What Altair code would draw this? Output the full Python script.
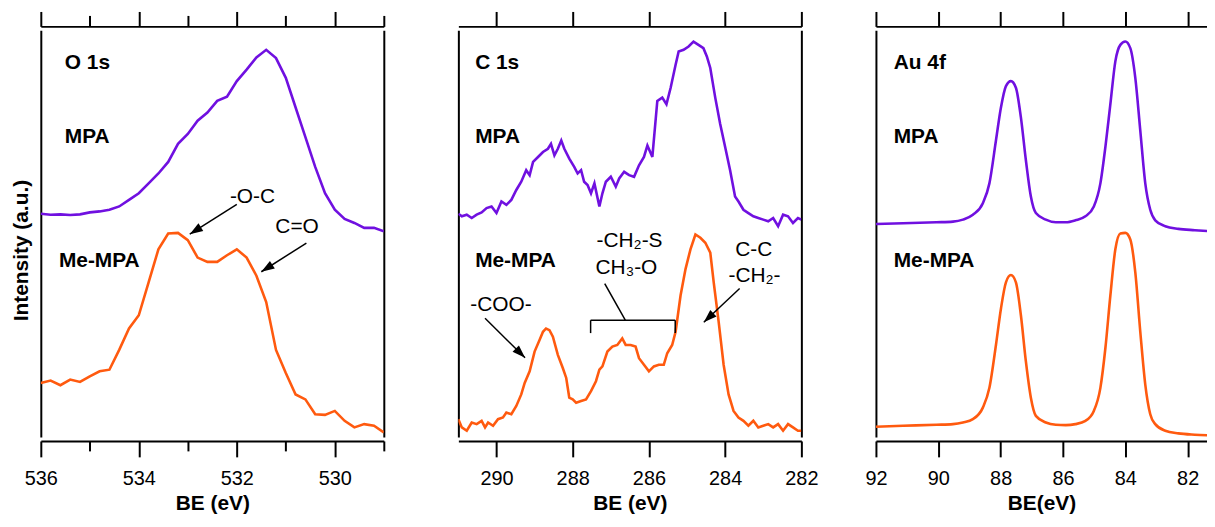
import math
import altair as alt
import pandas as pd

PURPLE = "#7010E0"
ORANGE = "#FF5A0F"
FONT = "Liberation Sans"
H = 409
YMAX = 1233

# ---------------- O 1s ----------------
o1s_be = [536.0, 535.8, 535.6, 535.4, 535.2, 535.0, 534.8, 534.6, 534.4, 534.2,
          534.0, 533.8, 533.6, 533.4, 533.2, 533.0, 532.8, 532.6, 532.4, 532.2,
          532.0, 531.8, 531.6, 531.4, 531.2, 531.0, 530.8, 530.6, 530.4, 530.2,
          530.0, 529.8, 529.6, 529.4, 529.2, 529.0]
o1s_mpa = [677, 674, 675, 673, 675, 681, 684, 689, 699, 719,
           739, 769, 799, 834, 889, 919, 959, 984, 1019, 1032,
           1079, 1114, 1151, 1174, 1149, 1089, 999, 909, 819, 739,
           689, 661, 649, 634, 634, 624]
o1s_me = [164, 171, 157, 174, 167, 184, 199, 204, 264, 329,
          369, 469, 569, 617, 619, 597, 544, 531, 531, 551,
          569, 544, 489, 409, 264, 194, 129, 114, 69, 67,
          79, 49, 29, 39, 34, 14]

# ---------------- C 1s ----------------
c1s_mpa_be = [291.00, 290.91, 290.78, 290.65, 290.52, 290.39, 290.26, 290.13, 290.00, 289.87,
              289.74, 289.61, 289.48, 289.35, 289.22, 289.13, 289.04, 288.91, 288.78, 288.65,
              288.57, 288.48, 288.39, 288.30, 288.22, 288.09, 287.96, 287.87, 287.78, 287.70,
              287.61, 287.52, 287.43, 287.30, 287.22, 287.13, 287.00, 286.87, 286.78, 286.65,
              286.52, 286.39, 286.26, 286.13, 286.04, 285.91, 285.78, 285.65, 285.54, 285.43,
              285.30, 285.22, 285.09, 284.96, 284.83, 284.70, 284.57, 284.48, 284.39, 284.26,
              284.13, 284.00, 283.87, 283.74, 283.65, 283.52, 283.39, 283.26, 283.13, 283.00,
              282.87, 282.74, 282.61, 282.48, 282.35, 282.22, 282.09, 282.00]
c1s_mpa = [677, 669, 674, 664, 674, 681, 694, 699, 679, 714,
           704, 719, 749, 774, 809, 794, 834, 849, 864, 874,
           889, 854, 874, 899, 874, 844, 819, 799, 809, 774,
           764, 739, 769, 699, 739, 774, 789, 759, 784, 804,
           794, 789, 824, 849, 884, 849, 1019, 1029, 1009, 1059,
           1129, 1169, 1174, 1184, 1199, 1189, 1179, 1154, 1119, 1029,
           949, 879, 809, 729, 714, 689, 679, 669, 664, 659,
           654, 664, 639, 674, 669, 649, 664, 659]
c1s_me_be = [291.00, 290.91, 290.78, 290.65, 290.52, 290.39, 290.30, 290.22, 290.09, 289.96,
             289.83, 289.74, 289.61, 289.48, 289.35, 289.26, 289.13, 289.00, 288.87, 288.78,
             288.70, 288.61, 288.52, 288.39, 288.26, 288.17, 288.09, 288.00, 287.91, 287.78,
             287.65, 287.52, 287.39, 287.30, 287.22, 287.09, 286.96, 286.83, 286.70, 286.61,
             286.48, 286.35, 286.26, 286.13, 286.00, 285.87, 285.74, 285.61, 285.52, 285.39,
             285.30, 285.17, 285.04, 284.91, 284.78, 284.65, 284.52, 284.39, 284.30, 284.17,
             284.04, 283.91, 283.78, 283.65, 283.52, 283.39, 283.26, 283.13, 283.00, 282.87,
             282.74, 282.61, 282.48, 282.35, 282.22, 282.09, 282.00]
c1s_me = [54, 29, 19, 44, 39, 49, 29, 44, 34, 54,
          59, 74, 69, 94, 129, 164, 199, 259, 294, 319,
          329, 324, 304, 249, 209, 179, 119, 114, 104, 109,
          114, 139, 169, 204, 214, 259, 274, 279, 299, 279,
          279, 274, 239, 219, 199, 214, 219, 219, 254, 279,
          319, 429, 509, 569, 614, 604, 589, 559, 469, 349,
          219, 129, 79, 59, 49, 34, 49, 29, 34, 39,
          29, 39, 19, 39, 29, 19, 19]

# ---------------- Au 4f ----------------
au_be = [92.00, 91.13, 90.06, 89.53, 89.21, 88.89, 88.57, 88.36, 88.15, 87.99,
         87.83, 87.67, 87.51, 87.35, 87.19, 87.03, 86.87, 86.55, 86.23, 85.91,
         85.60, 85.28, 85.01, 84.80, 84.64, 84.48, 84.32, 84.16, 84.00, 83.84,
         83.68, 83.52, 83.36, 83.20, 83.04, 82.72, 82.30, 81.77, 81.29]
au_mpa = [646, 648, 651, 653, 659, 674, 709, 769, 899, 999,
          1064, 1079, 1059, 969, 839, 729, 679, 659, 651, 651,
          657, 669, 699, 769, 879, 1009, 1139, 1189, 1199, 1179,
          1089, 929, 769, 689, 657, 639, 631, 627, 624]
au_me = [31, 34, 37, 39, 44, 54, 89, 149, 279, 389,
         469, 491, 469, 369, 229, 119, 64, 44, 37, 36,
         39, 49, 79, 149, 269, 429, 569, 617, 619, 599,
         499, 319, 159, 69, 39, 19, 11, 7, 5]

# ---------------- axes / text ----------------
o1s_ticks = [536, 535, 534, 533, 532, 531, 530, 529]
c1s_ticks = [290, 288, 286, 284, 282]
au_ticks = [92, 90, 88, 86, 84, 82]

panel_names = ["O 1s", "C 1s", "Au 4f"]
series_names = ["MPA", "Me-MPA"]
label_y = [1134, 911, 534]
o1s_label_x = [535.51, 535.51, 535.63]
c1s_label_x = [290.56, 290.56, 290.56]
au_label_x = [91.43, 91.43, 91.43]

o1s_notes = ["-O-C", "C=O"]
o1s_note_x = [531.68, 530.77]
o1s_note_y = [729, 636]
o1s_arr_x = [532.00, 530.58]
o1s_arr_y = [705, 588]
o1s_arr_x2 = [532.96, 531.50]
o1s_arr_y2 = [615, 501]

c1s_notes = ["-CH₂-S", "CH₃-O", "C-C", "-CH₂-", "-COO-"]
c1s_note_x = [286.51, 286.59, 283.25, 283.23, 289.88]
c1s_note_y = [594, 513, 567, 489, 399]
c1s_arr_x = [290.30, 283.62]
c1s_arr_y = [360, 450]
c1s_arr_x2 = [289.25, 284.56]
c1s_arr_y2 = [240, 348]
c1s_seg_x = [287.53, 287.53, 285.31, 286.62]
c1s_seg_y = [354, 354, 354, 354]
c1s_seg_x2 = [285.31, 287.53, 285.31, 287.16]
c1s_seg_y2 = [354, 315, 315, 465]

ARROW = "M0,0 L-0.38,1.1 L0.38,1.1 Z"


def head_angle(x, y, x2, y2, xdom, width):
    sx = width / (xdom[0] - xdom[1])
    dx = -(x2 - x) * sx
    dy = -(y2 - y) * H / YMAX
    return math.degrees(math.atan2(dx, -dy)) % 360


def make_panel(xdom, width, ticks, minor, be_m, i_m, be_e, i_e, name, lab_x,
               notes, arrows, segs, ytitle, xtitle, right_axis, interp):
    xs = alt.Scale(domain=xdom, nice=False, zero=False)
    ys = alt.Scale(domain=[0, YMAX], nice=False, zero=False)
    if minor:
        bts = {"condition": {"test": "datum.value % 2 === 0", "value": 16}, "value": 10}
        tts = {"condition": {"test": "datum.value % 2 === 0", "value": 15}, "value": 11}
        bottom = alt.Axis(orient="bottom", values=ticks, tickSize=bts, offset=4,
                          labelExpr="datum.value % 2 === 0 ? datum.label : ''",
                          labelPadding=12, titlePadding=4, labelFlush=False,
                          labelOverlap=False, title=xtitle)
        top = alt.Axis(orient="top", values=ticks, tickSize=tts, offset=4,
                       labels=False, title=None)
    else:
        bottom = alt.Axis(orient="bottom", values=ticks, tickSize=16, offset=4,
                          labelPadding=12, titlePadding=4, labelFlush=False,
                          labelOverlap=False, title=xtitle)
        top = alt.Axis(orient="top", values=ticks, tickSize=15, offset=4,
                       labels=False, title=None)
    if ytitle:
        left = alt.Axis(orient="left", ticks=False, labels=False, grid=False,
                        title=ytitle, titleX=-19, titleY=221, titleAngle=270,
                        titleBaseline="middle", titleAlign="center")
    else:
        left = alt.Axis(orient="left", ticks=False, labels=False, grid=False, title=None)

    df_m = pd.DataFrame({"be": be_m, "i": i_m})
    df_e = pd.DataFrame({"be": be_e, "i": i_e})
    mpa = alt.Chart(df_m).mark_line(color=PURPLE, strokeWidth=2.6, interpolate=interp,
                                    clip=True).encode(
        x=alt.X("be:Q", scale=xs, axis=bottom),
        y=alt.Y("i:Q", scale=ys, axis=left))
    if right_axis:
        ry = alt.Y("i:Q", scale=ys, axis=alt.Axis(orient="right", ticks=False, labels=False,
                                                   grid=False, title=None))
    else:
        ry = alt.Y("i:Q", scale=ys, axis=None)
    me = alt.Chart(df_e).mark_line(color=ORANGE, strokeWidth=2.6, interpolate=interp,
                                   clip=True).encode(
        x=alt.X("be:Q", scale=xs, axis=top), y=ry)

    df_lab = pd.DataFrame({"t": [name] + series_names, "x": lab_x, "y": label_y})
    labs = alt.Chart(df_lab).mark_text(align="left", baseline="middle", font=FONT,
                                       fontSize=21, fontWeight="bold", color="black").encode(
        x=alt.X("x:Q", scale=xs, axis=None), y=alt.Y("y:Q", scale=ys, axis=None), text="t:N")
    layers = [mpa, me, labs]

    if notes:
        df_n = pd.DataFrame({"t": notes[0], "x": notes[1], "y": notes[2]})
        layers.append(alt.Chart(df_n).mark_text(align="center", baseline="middle", font=FONT,
                                                fontSize=21, color="black").encode(
            x=alt.X("x:Q", scale=xs, axis=None), y=alt.Y("y:Q", scale=ys, axis=None),
            text="t:N"))
    if segs:
        df_s = pd.DataFrame({"x": segs[0], "y": segs[1], "x2": segs[2], "y2": segs[3]})
        layers.append(alt.Chart(df_s).mark_rule(color="black", strokeWidth=1.5).encode(
            x=alt.X("x:Q", scale=xs, axis=None), x2="x2:Q",
            y=alt.Y("y:Q", scale=ys, axis=None), y2="y2:Q"))
    if arrows:
        df_a = pd.DataFrame({"x": arrows[0], "y": arrows[1], "x2": arrows[2], "y2": arrows[3]})
        df_a["ang"] = [head_angle(a, b, c, d, xdom, width)
                       for a, b, c, d in zip(arrows[0], arrows[1], arrows[2], arrows[3])]
        layers.append(alt.Chart(df_a).mark_rule(color="black", strokeWidth=1.5).encode(
            x=alt.X("x:Q", scale=xs, axis=None), x2="x2:Q",
            y=alt.Y("y:Q", scale=ys, axis=None), y2="y2:Q"))
        layers.append(alt.Chart(df_a).mark_point(shape=ARROW, filled=True, size=576,
                                                 color="black", opacity=1, strokeWidth=0).encode(
            x=alt.X("x2:Q", scale=xs, axis=None), y=alt.Y("y2:Q", scale=ys, axis=None),
            angle=alt.Angle("ang:Q", scale=None)))

    return alt.layer(*layers).resolve_axis(x="independent", y="independent").properties(
        width=width, height=H)


p1 = make_panel([536, 529], 345, o1s_ticks, True, o1s_be, o1s_mpa, o1s_be, o1s_me,
                panel_names[0], o1s_label_x,
                (o1s_notes, o1s_note_x, o1s_note_y),
                (o1s_arr_x, o1s_arr_y, o1s_arr_x2, o1s_arr_y2), None,
                "Intensity (a.u.)", "BE (eV)", True, "linear")
p2 = make_panel([291, 282], 345, c1s_ticks, False, c1s_mpa_be, c1s_mpa, c1s_me_be, c1s_me,
                panel_names[1], c1s_label_x,
                (c1s_notes, c1s_note_x, c1s_note_y),
                (c1s_arr_x, c1s_arr_y, c1s_arr_x2, c1s_arr_y2),
                (c1s_seg_x, c1s_seg_y, c1s_seg_x2, c1s_seg_y2),
                None, "BE (eV)", True, "linear")
p3 = make_panel([92, 81.38], 333, au_ticks, False, au_be, au_mpa, au_be, au_me,
                panel_names[2], au_label_x, None, None, None,
                None, "BE(eV)", False, "monotone")

chart = alt.hconcat(p1, p2, p3, spacing=75, bounds="flush").properties(
    padding={"left": 3, "top": 1, "right": 0, "bottom": 0}
).configure_view(strokeWidth=0).configure_axis(
    domainColor="black", domainWidth=2, tickColor="black", tickWidth=2, grid=False,
    labelFont=FONT, labelFontSize=20, labelColor="black",
    titleFont=FONT, titleFontSize=21, titleFontWeight="bold", titleColor="black")

chart.save("out.html", embed_options={"renderer": "svg", "actions": False})
